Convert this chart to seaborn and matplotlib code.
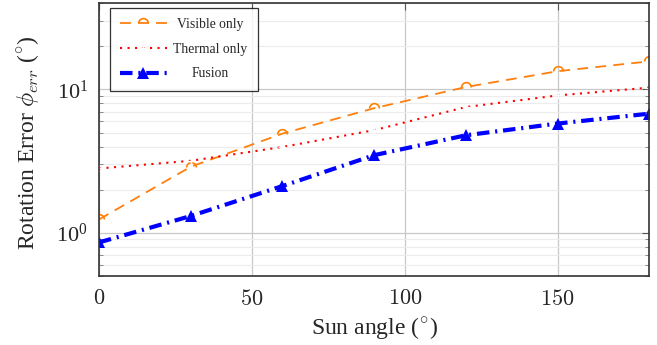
import numpy as np
import pandas as pd
import matplotlib
matplotlib.use("Agg")
import matplotlib.pyplot as plt
import seaborn as sns
from matplotlib.path import Path
from matplotlib.transforms import Affine2D
from matplotlib.ticker import LogLocator, NullFormatter, FixedLocator, FuncFormatter

# ----------------------------
# Data
# ----------------------------
sun_angle = [0, 30, 60, 90, 120, 150, 180]
visible_only = [1.24, 2.89, 4.92, 7.4, 10.4, 13.4, 15.7]
thermal_only = [2.81, 3.18, 3.97, 5.2, 7.54, 9.08, 10.3]
fusion = [0.857, 1.31, 2.12, 3.48, 4.79, 5.78, 6.78]

series_names = ["Visible only", "Thermal only", "Fusion"]
x_ticks = [0, 50, 100, 150]

sns.set_theme(style="white")
plt.rcParams["font.family"] = ["Liberation Serif", "DejaVu Serif"]
plt.rcParams["mathtext.fontset"] = "cm"

fig = plt.figure(figsize=(6.57, 3.45), dpi=100)
ax = fig.add_axes([0.1507, 0.2, 0.8377, 0.791])

arc = Path.arc(0, 180)

sns.lineplot(x=sun_angle, y=visible_only, ax=ax, color="#ff7f0e", lw=1.3,
             linestyle=(0, (6, 4)), marker=arc, markersize=7,
             markeredgewidth=1.2, markerfacecolor="none",
             markeredgecolor="#ff8000", label=series_names[0])
sns.lineplot(x=sun_angle, y=thermal_only, ax=ax, color="red", lw=1.5,
             linestyle=(0, (1, 2.6)), marker="+", markersize=6,
             markeredgewidth=1.0, label=series_names[1])
sns.lineplot(x=sun_angle, y=fusion, ax=ax, color="blue", lw=3.0,
             linestyle=(0, (3, 1.4, 0.5, 1.4)), marker="^", markersize=8,
             markeredgewidth=0, label=series_names[2])

ax.set_yscale("log")
ax.set_xlim(0, 180)
ax.set_ylim(0.5, 40)
ax.xaxis.set_major_locator(FixedLocator(x_ticks))
ax.xaxis.set_major_formatter(FuncFormatter(lambda v, p: r"$%d$" % v))
ax.yaxis.set_major_locator(LogLocator(base=10, numticks=10))
ax.yaxis.set_minor_locator(LogLocator(base=10, subs=np.arange(2, 10), numticks=10))
ax.yaxis.set_minor_formatter(NullFormatter())

ax.grid(True, which="major", color="#c8c8c8", lw=0.9)
ax.grid(True, which="minor", axis="y", color="#ececec", lw=0.8)
ax.set_axisbelow(True)

for s in ax.spines.values():
    s.set_color("#333333")
    s.set_linewidth(1.2)

ax.tick_params(axis="both", which="major", direction="in", length=5, width=0.8,
               color="#555555", labelsize=16, top=True, right=True, pad=8)
ax.tick_params(axis="x", which="major", pad=10)
ax.tick_params(axis="y", which="minor", direction="in", length=3, width=0.6,
               color="#777777", left=True, right=True)

ax.set_xlabel(r"Sun angle ($^{\circ}$)", fontsize=17, labelpad=4)
ax.set_ylabel(r"Rotation Error $\phi_{err}$ ($^{\circ}$)", fontsize=17)
ax.yaxis.set_label_coords(-0.106, 0.49)

leg = ax.legend(loc="upper left", bbox_to_anchor=(0.02, 0.982), borderaxespad=0,
                fontsize=9.8, frameon=True, fancybox=False, edgecolor="black",
                handlelength=3.4, handletextpad=0.5, borderpad=0.75,
                labelspacing=0.85)
leg.get_frame().set_linewidth(0.9)

# centre the legend labels in their column, as in the reference
fig.canvas.draw()
texts = leg.get_texts()
widths = [t.get_window_extent().width for t in texts]
max_w = max(widths)
for t, w in zip(texts, widths):
    t.set_transform(t.get_transform() + Affine2D().translate((max_w - w) / 2, 0))

fig.savefig("out.png", dpi=100)
